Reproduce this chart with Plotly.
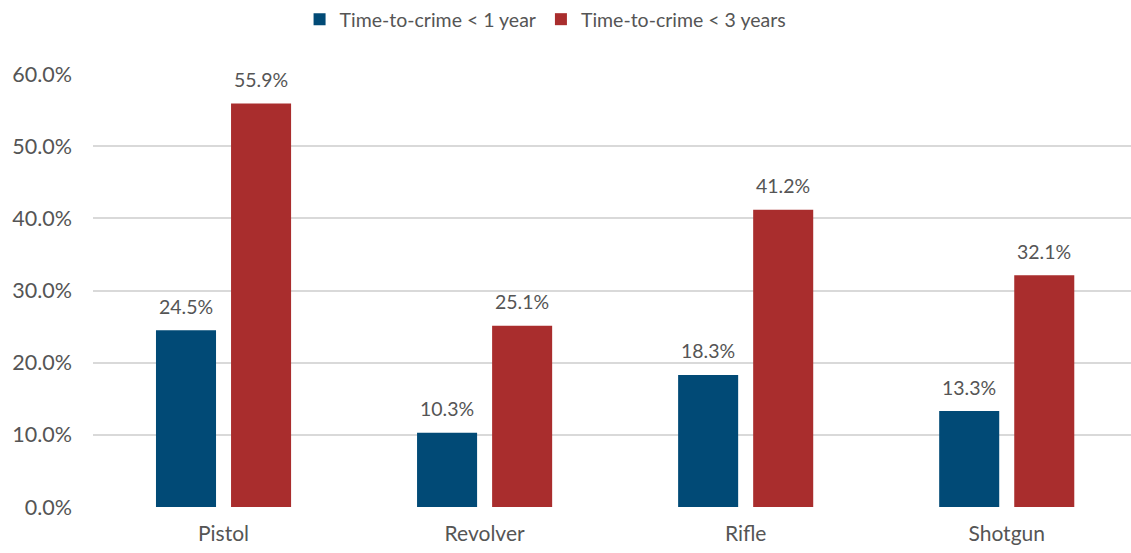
import plotly.graph_objects as go

categories = ["Pistol", "Revolver", "Rifle", "Shotgun"]
series_names = ["Time-to-crime < 1 year", "Time-to-crime < 3 years"]
lt1 = [24.5, 10.3, 18.3, 13.3]
lt3 = [55.9, 25.1, 41.2, 32.1]
colors = ["#014A76", "#A92D2D"]
y_ticks = [0, 10, 20, 30, 40, 50, 60]
y_tick_labels = [f"{v:.1f}%" for v in y_ticks]

FONT = "Lato, Carlito, Calibri, sans-serif"
GRAY = "#555555"

fig = go.Figure()
for name, vals, col in zip(series_names, [lt1, lt3], colors):
    fig.add_trace(go.Bar(
        x=categories, y=vals, name=name, marker=dict(color=col, line=dict(width=0)),
    ))

# data labels
for i, vals in enumerate([lt1, lt3]):
    shift = -37.5 if i == 0 else 37.5
    for c, v in zip(categories, vals):
        fig.add_annotation(x=c, y=v, text=f"{v:.1f}%", showarrow=False,
                           xshift=shift, yshift=24, yanchor="middle",
                           font=dict(family=FONT, size=19.5, color=GRAY))

fig.update_layout(
    width=1131, height=553,
    margin=dict(l=93, r=0, t=74, b=46),
    paper_bgcolor="white", plot_bgcolor="white",
    barmode="group", bargap=0.425, bargroupgap=0.2,
    font=dict(family=FONT, color=GRAY, size=19),
    showlegend=True,
    legend=dict(orientation="h", x=0.436, xanchor="center", y=1, yref="container",
                yanchor="top", font=dict(family=FONT, size=19.5, color=GRAY),
                itemwidth=30, traceorder="normal"),
    xaxis=dict(range=[-0.5, 3.476], showgrid=False, zeroline=False, showline=False,
               ticks="", tickfont=dict(family=FONT, size=21, color=GRAY),
               ticklabelstandoff=12, fixedrange=True),
    yaxis=dict(range=[0, 60], tickvals=y_ticks, ticktext=y_tick_labels,
               showgrid=True, gridcolor="#D9D9D9", gridwidth=2, zeroline=False,
               showline=False, ticks="", tickfont=dict(family=FONT, size=21.5, color=GRAY),
               ticklabelstandoff=20, fixedrange=True),
)

fig.write_html("out.html")
